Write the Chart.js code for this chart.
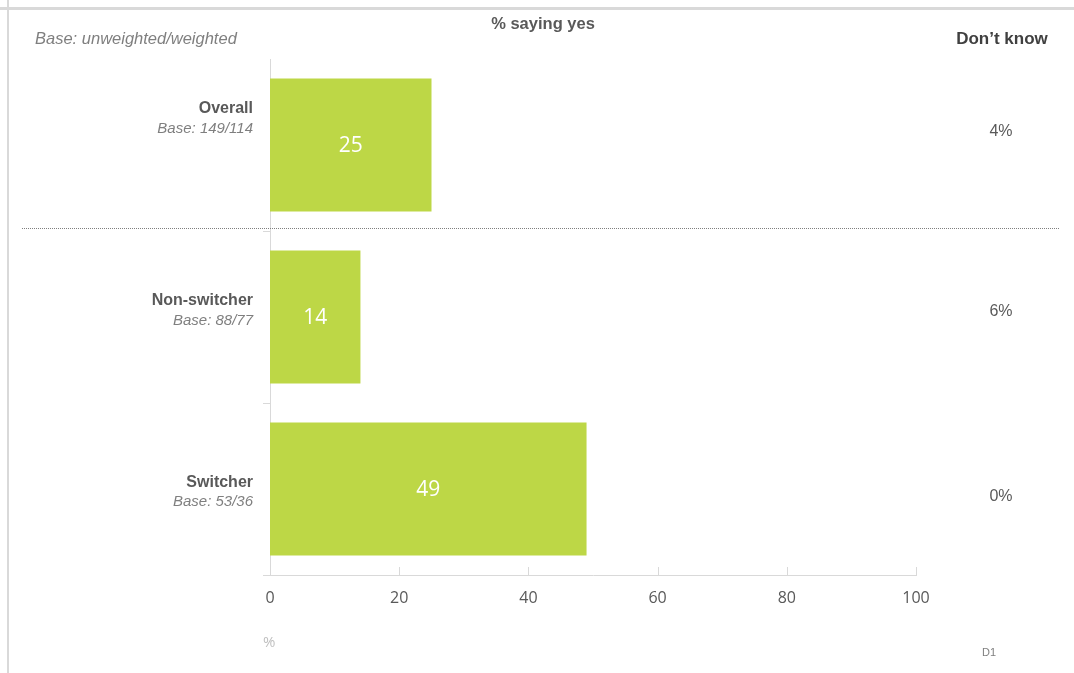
<!DOCTYPE html>
<html lang="en">
<head>
    <meta charset="UTF-8">
    <title>% saying yes</title>
    <script src="https://cdn.jsdelivr.net/npm/chart.js"></script>
    <style>
        body {
            margin: 0;
            background: #ffffff;
        }
        .wrap {
            position: relative;
            width: 1074px;
            height: 673px;
        }
    </style>
</head>
<body>
    <div class="wrap">
        <canvas id="yesChart" width="1074" height="673"></canvas>
    </div>

    <script>
        // Survey groups and results
        const groups = ['Overall', 'Non-switcher', 'Switcher'];
        const bases = ['Base: 149/114', 'Base: 88/77', 'Base: 53/36'];
        const sayingYes = [25, 14, 49];
        const dontKnow = [4, 6, 0];
        const xTicks = [0, 20, 40, 60, 80, 100];

        const GREEN = '#bdd746';
        const AXIS = '#d9d9d9';
        const ARIAL = '"Liberation Sans", Arial, sans-serif';
        const NARROW = '"Open Sans", sans-serif';

        // label nudges per row (name, base line, don't-know value)
        const nameShift = [-36, -16, -6];
        const baseShift = [-16, 4, 13];
        const dkShift = [-13, -5, 8];

        const decorations = {
            id: 'decorations',
            beforeDraw(chart) {
                const ctx = chart.ctx;
                ctx.save();
                // frame lines
                ctx.fillStyle = AXIS;
                ctx.fillRect(0, 7, chart.width, 3);
                ctx.fillRect(7, 0, 2, chart.height);
                ctx.restore();
            },
            afterDraw(chart) {
                const ctx = chart.ctx;
                const x = chart.scales.x;
                const y = chart.scales.y;
                const area = chart.chartArea;
                ctx.save();

                // x tick marks above the axis
                ctx.strokeStyle = AXIS;
                ctx.lineWidth = 1;
                xTicks.forEach(v => {
                    const px = Math.round(x.getPixelForValue(v)) + 0.5;
                    ctx.beginPath();
                    ctx.moveTo(px, area.bottom);
                    ctx.lineTo(px, area.bottom - 8);
                    ctx.stroke();
                });
                ctx.beginPath();
                ctx.moveTo(area.left - 7, area.bottom + 0.5);
                ctx.lineTo(area.left, area.bottom + 0.5);
                ctx.stroke();

                // y tick marks at row boundaries
                const band = (y.getPixelForValue(1) - y.getPixelForValue(0));
                for (let i = 0; i < groups.length - 1; i++) {
                    const py = Math.round(y.getPixelForValue(i) + band / 2) + 0.5;
                    ctx.beginPath();
                    ctx.moveTo(area.left - 7, py);
                    ctx.lineTo(area.left, py);
                    ctx.stroke();
                }

                // dotted separator under Overall
                const sepY = Math.round(y.getPixelForValue(0) + band / 2) - 3 + 0.5;
                ctx.strokeStyle = '#7f7f7f';
                ctx.setLineDash([1, 1]);
                ctx.beginPath();
                ctx.moveTo(22, sepY);
                ctx.lineTo(1060, sepY);
                ctx.stroke();
                ctx.setLineDash([]);

                // row labels
                ctx.textAlign = 'right';
                ctx.textBaseline = 'middle';
                groups.forEach((g, i) => {
                    const cy = y.getPixelForValue(i);
                    ctx.fillStyle = '#595959';
                    ctx.font = 'bold 16px ' + ARIAL;
                    ctx.fillText(g, 253, cy + nameShift[i]);
                    ctx.fillStyle = '#7f7f7f';
                    ctx.font = 'italic 15px ' + ARIAL;
                    ctx.fillText(bases[i], 253, cy + baseShift[i]);
                });

                // don't know column
                ctx.textAlign = 'center';
                ctx.fillStyle = '#404040';
                ctx.font = 'bold 17px ' + ARIAL;
                ctx.fillText('Don\u2019t know', 1002, 39);
                ctx.fillStyle = '#595959';
                ctx.font = '16px ' + ARIAL;
                dontKnow.forEach((v, i) => {
                    ctx.fillText(v + '%', 1001, y.getPixelForValue(i) + dkShift[i]);
                });

                // headings and notes
                ctx.fillStyle = '#595959';
                ctx.font = 'bold 16.5px ' + ARIAL;
                ctx.fillText('% saying yes', 543, 24);
                ctx.textAlign = 'left';
                ctx.fillStyle = '#7f7f7f';
                ctx.font = 'italic 16.5px ' + ARIAL;
                ctx.fillText('Base: unweighted/weighted', 35, 39);
                ctx.fillStyle = '#bfbfbf';
                ctx.font = '15px ' + NARROW;
                ctx.fillText('%', 263, 643);
                ctx.fillStyle = '#7f7f7f';
                ctx.font = '11px ' + ARIAL;
                ctx.fillText('D1', 982, 653);

                // values inside bars
                const meta = chart.getDatasetMeta(0);
                ctx.textAlign = 'center';
                ctx.fillStyle = '#ffffff';
                ctx.font = '21px ' + NARROW;
                meta.data.forEach((bar, i) => {
                    ctx.fillText(String(sayingYes[i]), (bar.x + bar.base) / 2, bar.y + 1);
                });

                ctx.restore();
            }
        };

        new Chart(document.getElementById('yesChart'), {
            type: 'bar',
            data: {
                labels: groups,
                datasets: [{
                    data: sayingYes,
                    backgroundColor: GREEN,
                    borderWidth: 0,
                    categoryPercentage: 1,
                    barPercentage: 0.773
                }]
            },
            options: {
                indexAxis: 'y',
                responsive: false,
                animation: false,
                layout: {
                    padding: { left: 270, right: 158, top: 59, bottom: 0 }
                },
                plugins: {
                    legend: { display: false },
                    tooltip: { enabled: false }
                },
                scales: {
                    x: {
                        min: 0,
                        max: 100,
                        afterBuildTicks(scale) {
                            scale.ticks = xTicks.map(v => ({ value: v }));
                        },
                        afterFit(scale) {
                            scale.height = 98;
                        },
                        grid: { display: false, drawTicks: false },
                        border: { display: true, color: AXIS, width: 1 },
                        ticks: {
                            padding: 14,
                            color: '#595959',
                            font: { family: NARROW, size: 16 }
                        }
                    },
                    y: {
                        afterFit(scale) {
                            scale.width = 0;
                        },
                        grid: { display: false, drawTicks: false },
                        border: { display: true, color: AXIS, width: 1 },
                        ticks: { display: false }
                    }
                }
            },
            plugins: [decorations]
        });
    </script>
</body>
</html>
